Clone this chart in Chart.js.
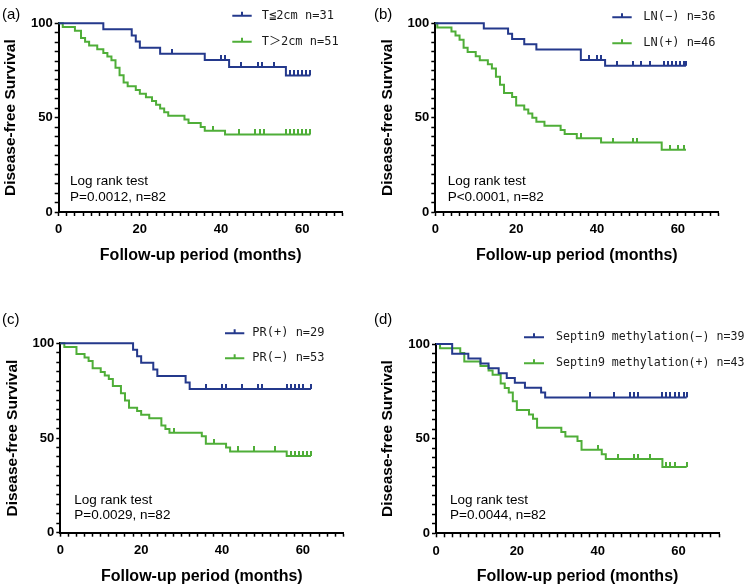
<!DOCTYPE html>
<html>
<head>
<meta charset="utf-8">
<script src="https://cdn.jsdelivr.net/npm/chart.js@4.4.0/dist/chart.umd.min.js"></script>
<style>
  body { margin: 0; background: #fff; width: 750px; height: 588px; position: relative; overflow: hidden; font-family: "Liberation Sans", Arial, sans-serif; }
  canvas { position: absolute; }
  .tag { position: absolute; font-size: 15px; color: #000; }
</style>
</head>
<body>
<canvas id="pa" width="375" height="294" style="left:0;top:0"></canvas>
<canvas id="pb" width="375" height="294" style="left:375px;top:0"></canvas>
<canvas id="pc" width="375" height="294" style="left:0;top:294px"></canvas>
<canvas id="pd" width="375" height="294" style="left:375px;top:294px"></canvas>
<div class="tag" style="left:2px;top:5px">(a)</div>
<div class="tag" style="left:374px;top:5px">(b)</div>
<div class="tag" style="left:2px;top:310px">(c)</div>
<div class="tag" style="left:374px;top:310px">(d)</div>
<script>
// (a) tumour size
const aBlueT = [0, 11, 18, 19, 20, 25, 36, 42, 56, 62];
const aBlueS = [100, 96.8, 93.5, 90.3, 87.1, 83.9, 80.5, 76.9, 72.4, 72.4];
const aBlueC = [28, 40, 41, 45, 49, 50, 53, 57, 58, 59, 60, 61, 62];
const aGreenT = [0, 1, 4, 5.5, 6.5, 7.5, 9.5, 11, 12, 13, 14, 15, 16, 17, 19, 20, 21.5, 23, 24, 25, 26, 27, 31, 32, 35, 36, 41, 62];
const aGreenS = [100, 98.0, 96.1, 92.2, 90.2, 88.2, 86.3, 84.3, 82.4, 80.4, 76.5, 72.5, 68.6, 66.7, 64.7, 62.7, 60.8, 58.8, 56.9, 54.9, 52.9, 51.0, 49.0, 47.1, 45.1, 43.1, 41.1, 41.1];
const aGreenC = [38, 44.5, 48.5, 49.5, 50.5, 56, 57, 58, 59, 60, 61, 62];

// (b) lymph node
const bBlueT = [0, 12, 18, 19, 22, 25, 36, 42, 62];
const bBlueS = [100, 97.2, 94.4, 91.7, 88.9, 86.1, 80.6, 77.5, 77.5];
const bBlueC = [38, 40, 41, 45, 49, 51, 53, 56.5, 57.5, 58.5, 59.5, 60.5, 61.5, 62];
const bGreenT = [0, 0.5, 4, 5, 6, 7, 8, 10, 11, 13, 14, 15, 16, 17, 19, 20, 22, 23, 24, 25, 27, 31, 32, 35, 41, 56, 62];
const bGreenS = [100, 97.8, 95.7, 93.5, 91.3, 87.0, 84.8, 82.6, 80.4, 78.3, 76.1, 71.7, 67.4, 63.0, 60.9, 56.5, 54.3, 52.2, 50.0, 47.8, 45.7, 43.5, 41.3, 39.1, 36.8, 33.0, 33.0];
const bGreenC = [36, 44, 49, 50, 58, 60, 61.5];

// (c) PR status
const cBlueT = [0, 18, 19, 20, 23, 24, 31, 32, 62];
const cBlueS = [100, 96.6, 93.1, 89.7, 86.2, 82.8, 79.3, 75.9, 75.9];
const cBlueC = [36, 40, 41, 45, 49, 50, 56, 57, 58, 59, 60, 62];
const cGreenT = [0, 1, 4, 6, 7, 8, 10, 11, 12, 13, 15, 16, 17, 19, 20, 22, 25, 26, 27, 35, 36, 41, 42, 56, 62];
const cGreenS = [100, 98.1, 94.3, 92.5, 90.6, 86.8, 84.9, 83.0, 81.1, 77.4, 73.6, 69.8, 66.0, 64.2, 62.3, 60.4, 56.6, 54.7, 52.8, 50.9, 47.0, 45.0, 42.9, 40.5, 40.5];
const cGreenC = [28, 38, 44, 48, 53, 57, 58, 59, 60, 61, 62];

// (d) Septin9 methylation
const dBlueT = [0, 4, 8, 11, 13, 15.5, 17.5, 19.5, 22, 26, 27, 62];
const dBlueS = [100, 94.9, 92.3, 89.7, 87.2, 84.6, 82.1, 79.5, 76.9, 74.4, 71.8, 71.8];
const dBlueC = [38, 44, 48, 49, 50, 56, 57, 58, 59, 60, 61.3, 62.2];
const dGreenT = [0, 1, 6, 7, 11, 13, 14, 16, 17, 18, 19, 20, 23, 24, 25, 31, 32, 35, 36, 41, 42, 56, 62];
const dGreenS = [100, 97.7, 95.3, 90.7, 88.4, 86.0, 83.7, 79.1, 76.7, 74.4, 69.8, 65.1, 62.8, 60.5, 55.8, 53.5, 51.2, 48.8, 44.2, 41.7, 39.3, 35.0, 35.0];
const dGreenC = [40, 45, 49, 50, 53, 57, 58, 59, 62];

const xTicks = [0, 20, 40, 60];
const yTicks = [0, 50, 100];

const BLUE = '#24398c';
const GREEN = '#4fae38';

Chart.defaults.font.family = '"Liberation Sans", Arial, sans-serif';

function survAt(T, S, t) {
  let v = S[0];
  for (let i = 0; i < T.length; i++) if (T[i] <= t) v = S[i];
  return v;
}

function tickMark(color) {
  const c = document.createElement('canvas');
  c.width = 2; c.height = 10;
  const g = c.getContext('2d');
  g.fillStyle = color;
  g.fillRect(0, 0, 2, 5);
  return c;
}

// legend + log rank note drawn inside the plot
const overlay = {
  id: 'overlay',
  afterDraw(chart, args, o) {
    const ctx = chart.ctx;
    ctx.save();
    ctx.textBaseline = 'middle';
    o.items.forEach((it, i) => {
      const y = o.legY[i];
      const mx = (o.legX0 + o.legX1) / 2;
      ctx.strokeStyle = it.color;
      ctx.lineWidth = 2;
      ctx.beginPath();
      ctx.moveTo(o.legX0, y); ctx.lineTo(o.legX1, y);
      ctx.moveTo(mx, y); ctx.lineTo(mx, y - 4);
      ctx.stroke();
      ctx.fillStyle = '#1a1a1a';
      ctx.font = o.legSize + 'px "DejaVu Sans Mono", "Noto Sans CJK SC", monospace';
      ctx.fillText(it.label, o.textX, y);
    });
    ctx.fillStyle = '#000';
    ctx.font = '13.5px "Liberation Sans", Arial, sans-serif';
    o.note.forEach((s, i) => ctx.fillText(s, o.noteX, o.noteY[i]));
    ctx.restore();
  }
};

function makePanel(id, p) {
  const [L, T, R, B] = p.area;
  new Chart(document.getElementById(id), {
    type: 'line',
    data: {
      datasets: [
        { data: p.blueT.map((t, i) => ({ x: t, y: p.blueS[i] })), borderColor: BLUE, borderWidth: 2, stepped: 'before', pointRadius: 0, clip: false },
        { data: p.greenT.map((t, i) => ({ x: t, y: p.greenS[i] })), borderColor: GREEN, borderWidth: 2, stepped: 'before', pointRadius: 0, clip: false },
        { data: p.blueC.map(t => ({ x: t, y: survAt(p.blueT, p.blueS, t) })), showLine: false, pointStyle: tickMark(BLUE), pointRadius: 3, clip: false },
        { data: p.greenC.map(t => ({ x: t, y: survAt(p.greenT, p.greenS, t) })), showLine: false, pointStyle: tickMark(GREEN), pointRadius: 3, clip: false }
      ]
    },
    options: {
      responsive: false,
      animation: false,
      events: [],
      layout: { padding: { left: 0, top: T, right: 375 - R, bottom: 0 } },
      plugins: {
        legend: { display: false },
        tooltip: { enabled: false },
        overlay: p.overlay
      },
      scales: {
        x: {
          type: 'linear', min: 0, max: 70,
          afterFit: s => { s.height = 294 - B; },
          border: { color: '#000', width: 2 },
          grid: { drawOnChartArea: false, drawTicks: true, tickLength: 4, tickColor: '#000', tickWidth: 1.5 },
          ticks: {
            stepSize: 2, autoSkip: false, maxRotation: 0, padding: 6, color: '#000',
            font: { size: 13, weight: 'bold' },
            callback: v => xTicks.includes(v) ? String(v) : ''
          },
          title: { display: true, text: 'Follow-up period (months)', color: '#000', font: { size: 16, weight: 'bold' }, padding: { top: 0, bottom: p.xTitlePad } }
        },
        y: {
          min: 0, max: 100,
          afterFit: s => { s.width = L; },
          border: { color: '#000', width: 2 },
          grid: { drawOnChartArea: false, drawTicks: true, tickLength: 4, tickColor: '#000', tickWidth: 1.5 },
          ticks: {
            stepSize: 5, autoSkip: false, padding: 2, color: '#000',
            font: { size: 13, weight: 'bold' },
            callback: v => yTicks.includes(v) ? String(v) : ''
          },
          title: { display: true, text: 'Disease-free Survival', color: '#000', font: { size: 15.5, weight: 'bold' }, padding: { top: p.yTitlePad, bottom: 0 } }
        }
      }
    },
    plugins: [overlay]
  });
}

makePanel('pa', {
  blueT: aBlueT, blueS: aBlueS, blueC: aBlueC, greenT: aGreenT, greenS: aGreenS, greenC: aGreenC,
  area: [58.7, 23.3, 342.7, 212], xTitlePad: 28.4, yTitlePad: 1.2,
  overlay: {
    items: [{ label: 'T≦2cm n=31', color: BLUE }, { label: 'T＞2cm n=51', color: GREEN }],
    legX0: 232.3, legX1: 251.7, textX: 261.7, legY: [15.7, 41.7], legSize: 12,
    note: ['Log rank test', 'P=0.0012, n=82'], noteX: 70, noteY: [181, 197.7]
  }
});

makePanel('pb', {
  blueT: bBlueT, blueS: bBlueS, blueC: bBlueC, greenT: bGreenT, greenS: bGreenS, greenC: bGreenC,
  area: [60.3, 23.3, 343.3, 212], xTitlePad: 28.4, yTitlePad: 3.2,
  overlay: {
    items: [{ label: 'LN(−) n=36', color: BLUE }, { label: 'LN(+) n=46', color: GREEN }],
    legX0: 237.3, legX1: 256.7, textX: 268.3, legY: [17.3, 43.3], legSize: 12,
    note: ['Log rank test', 'P<0.0001, n=82'], noteX: 72.7, noteY: [181, 197.7]
  }
});

makePanel('pc', {
  blueT: cBlueT, blueS: cBlueS, blueC: cBlueC, greenT: cGreenT, greenS: cGreenS, greenC: cGreenC,
  area: [60.3, 49.3, 343.3, 238.7], xTitlePad: 2, yTitlePad: 3.2,
  overlay: {
    items: [{ label: 'PR(+) n=29', color: BLUE }, { label: 'PR(−) n=53', color: GREEN }],
    legX0: 225, legX1: 244.3, textX: 252.3, legY: [39.3, 64.3], legSize: 12,
    note: ['Log rank test', 'P=0.0029, n=82'], noteX: 74.3, noteY: [206.7, 221.7]
  }
});

makePanel('pd', {
  blueT: dBlueT, blueS: dBlueS, blueC: dBlueC, greenT: dGreenT, greenS: dGreenS, greenC: dGreenC,
  area: [61, 50, 344, 239.3], xTitlePad: 2, yTitlePad: 3.7,
  overlay: {
    items: [{ label: 'Septin9 methylation(−) n=39', color: BLUE }, { label: 'Septin9 methylation(+) n=43', color: GREEN }],
    legX0: 149, legX1: 169, textX: 181, legY: [43.3, 69.3], legSize: 11.6,
    note: ['Log rank test', 'P=0.0044, n=82'], noteX: 75, noteY: [206.7, 221.7]
  }
});
</script>
</body>
</html>
